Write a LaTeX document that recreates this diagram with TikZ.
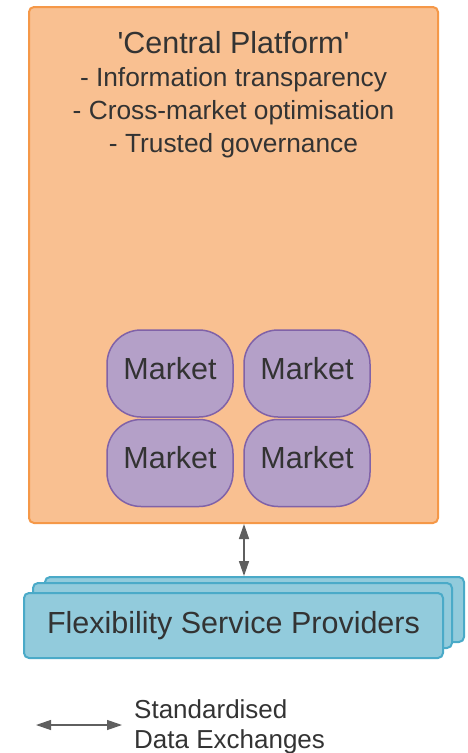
\documentclass[tikz,border=0pt]{standalone}
\usepackage{fontspec}
\setmainfont{Liberation Sans}
\usepackage{xcolor}
\usetikzlibrary{arrows.meta}

\definecolor{platfill}{RGB}{249,192,145}
\definecolor{platline}{RGB}{245,152,72}
\definecolor{mktfill}{RGB}{180,160,200}
\definecolor{mktline}{RGB}{128,98,168}
\definecolor{fspfill}{RGB}{146,203,220}
\definecolor{fspline}{RGB}{74,170,200}
\definecolor{txtgrey}{RGB}{51,51,51}
\definecolor{arrgrey}{RGB}{95,95,95}

\tikzset{
  platform/.style={draw=platline,fill=platfill,line width=2pt,rounded corners=5pt,
    minimum width=409pt,minimum height=516pt},
  market/.style={draw=mktline,fill=mktfill,line width=1.5pt,rounded corners=34pt,
    minimum width=126pt,minimum height=87pt,inner sep=0pt,text=txtgrey,
    font=\fontsize{30.5}{33}\selectfont,text depth=11pt},
  provider/.style={draw=fspline,fill=fspfill,line width=2pt,rounded corners=5pt,
    minimum width=419pt,minimum height=65pt,text=txtgrey,
    font=\fontsize{30.5}{33}\selectfont},
  exchange/.style={arrgrey,line width=1.5pt,
    {Triangle[length=15pt,width=10pt]}-{Triangle[length=15pt,width=10pt]}},
  plaintext/.style={text=txtgrey,inner sep=0pt}
}

\begin{document}
\begin{tikzpicture}[x=1pt,y=-1pt]
\useasboundingbox (0,0) rectangle (467,753);

\node[platform] (platform) at (233.5,265) {};
\node[plaintext,anchor=north,align=center,font=\fontsize{26.3}{33}\selectfont] (title) at (233.5,31)
  {{\fontsize{30.5}{33}\selectfont\textquotesingle Central Platform\textquotesingle}\\
   - Information transparency\\
   - Cross-market optimisation\\
   - Trusted governance};

\node[market] (mkt1) at (170,373.5) {Market};
\node[market] (mkt2) at (307,373.5) {Market};
\node[market] (mkt3) at (170,463) {Market};
\node[market] (mkt4) at (307,463) {Market};

\node[provider] (fsp3) at (254.5,609.5) {};
\node[provider] (fsp2) at (242.5,615.5) {};
\node[provider] (fsp) at (233.5,625.5) {Flexibility Service Providers};

\draw[exchange] ([xshift=10.5pt]platform.south) -- ([xshift=10.5pt]platform.south |- fsp3.north);

\coordinate (legA) at (36,725);
\coordinate (legB) at (122,725);
\draw[exchange,line width=1.2pt] (legA) -- (legB);
\node[plaintext,anchor=north west,align=left,font=\fontsize{26}{30}\selectfont] (legend) at (134,699.5)
  {Standardised\\Data Exchanges};
\end{tikzpicture}
\end{document}
